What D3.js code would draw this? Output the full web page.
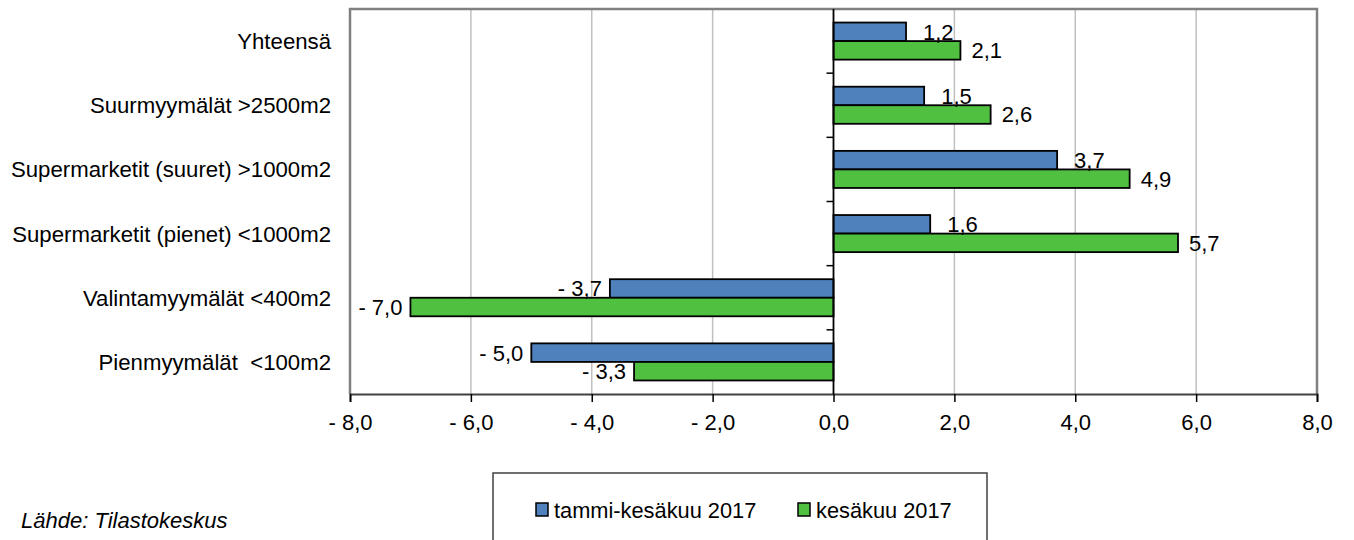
<!DOCTYPE html>
<html>
<head>
<meta charset="utf-8">
<script src="https://cdn.jsdelivr.net/npm/d3@7"></script>
<style>
  body { margin: 0; background: #fff; }
  svg { font-family: "Liberation Sans", Arial, sans-serif; }
</style>
</head>
<body>
<div id="wrapper"></div>
<script>
// data
const categories = [
    "Yhteensä",
    "Suurmyymälät >2500m2",
    "Supermarketit (suuret) >1000m2",
    "Supermarketit (pienet) <1000m2",
    "Valintamyymälät <400m2",
    "Pienmyymälät  <100m2",
]
const seriesNames = ["tammi-kesäkuu 2017", "kesäkuu 2017"]
const tammiKesa = [1.2, 1.5, 3.7, 1.6, -3.7, -5.0]
const kesa = [2.1, 2.6, 4.9, 5.7, -7.0, -3.3]
const xTicks = [-8, -6, -4, -2, 0, 2, 4, 6, 8]
const colors = ["#4f81bd", "#50c040"]

const fmt = d => (d < 0 ? "- " : "") + Math.abs(d).toFixed(1).replace(".", ",")

const rows = categories.map((c, i) => ({
    category: c,
    values: [
        {series: seriesNames[0], value: tammiKesa[i]},
        {series: seriesNames[1], value: kesa[i]},
    ],
}))

let dimensions = {
    width: 1354,
    height: 540,
    margin: {top: 9, right: 37, bottom: 146, left: 350},
}
dimensions.boundedWidth = dimensions.width - dimensions.margin.left - dimensions.margin.right
dimensions.boundedHeight = dimensions.height - dimensions.margin.top - dimensions.margin.bottom

const wrapper = d3.select("#wrapper").append("svg")
    .attr("width", dimensions.width)
    .attr("height", dimensions.height)
const bounds = wrapper.append("g")
    .attr("transform", `translate(${dimensions.margin.left},${dimensions.margin.top})`)

const xScaler = d3.scaleLinear().domain([-8, 8]).range([0, dimensions.boundedWidth])
const yScaler = d3.scaleBand().domain(categories).range([0, dimensions.boundedHeight])
const ySub = d3.scaleBand().domain(seriesNames).range([0, yScaler.bandwidth()])
    .paddingInner(0).paddingOuter(0.73)

// grid lines
bounds.append("g").selectAll("line")
    .data(xTicks.filter(d => d !== 0 && Math.abs(d) !== 8))
    .join("line")
    .attr("x1", d => xScaler(d)).attr("x2", d => xScaler(d))
    .attr("y1", 0).attr("y2", dimensions.boundedHeight)
    .attr("stroke", "#c0c0c0").attr("stroke-width", 1.5)

// plot border (left, top, right)
bounds.append("path")
    .attr("d", `M0,${dimensions.boundedHeight}V0H${dimensions.boundedWidth}V${dimensions.boundedHeight}`)
    .attr("fill", "none").attr("stroke", "#808080").attr("stroke-width", 2.5)

// x axis
const xAxisGen = d3.axisBottom(xScaler).tickValues(xTicks).tickFormat(fmt).tickSize(8).tickPadding(12)
const xAxis = bounds.append("g")
    .attr("transform", `translate(0,${dimensions.boundedHeight})`)
    .call(xAxisGen)
xAxis.select(".domain").attr("stroke", "#404040").attr("stroke-width", 2)
xAxis.selectAll(".tick line").attr("stroke", "#000").attr("stroke-width", 1.5)
xAxis.selectAll("text").attr("font-size", 22).attr("fill", "#000")
    .attr("font-family", "'Liberation Sans', Arial, sans-serif")

// bars
const groups = bounds.append("g").selectAll("g").data(rows).join("g")
    .attr("transform", d => `translate(0,${yScaler(d.category)})`)
groups.selectAll("rect").data(d => d.values).join("rect")
    .attr("x", d => xScaler(Math.min(0, d.value)))
    .attr("y", d => ySub(d.series))
    .attr("width", d => Math.abs(xScaler(d.value) - xScaler(0)))
    .attr("height", ySub.bandwidth())
    .attr("fill", (d, i) => colors[i])
    .attr("stroke", "#000").attr("stroke-width", 1.8)

// value labels
groups.selectAll("text").data(d => d.values).join("text")
    .attr("x", (d, i) => xScaler(d.value) + (d.value < 0 ? -8 : (i === 0 ? 17 : 11)))
    .attr("y", d => ySub(d.series) + ySub.bandwidth() / 2)
    .attr("dy", "0.36em")
    .attr("text-anchor", d => d.value < 0 ? "end" : "start")
    .attr("font-size", 22)
    .text(d => fmt(d.value))

// vertical axis at zero with ticks at band edges
const zeroAxis = bounds.append("g").attr("transform", `translate(${xScaler(0)},0)`)
zeroAxis.append("line")
    .attr("y1", 0).attr("y2", dimensions.boundedHeight)
    .attr("stroke", "#000").attr("stroke-width", 1.8)
zeroAxis.selectAll(".edge").data(categories.slice(1)).join("line")
    .attr("class", "edge")
    .attr("x1", -7).attr("x2", 0)
    .attr("y1", d => yScaler(d)).attr("y2", d => yScaler(d))
    .attr("stroke", "#000").attr("stroke-width", 1.5)

// category labels
bounds.append("g").selectAll("text").data(categories).join("text")
    .attr("x", -19)
    .attr("y", d => yScaler(d) + yScaler.bandwidth() / 2)
    .attr("dy", "0.36em")
    .attr("text-anchor", "end")
    .attr("font-size", 22.2)
    .style("white-space", "pre")
    .text(d => d)

// legend
const legend = wrapper.append("g")
legend.append("rect")
    .attr("x", 493).attr("y", 473).attr("width", 494).attr("height", 70)
    .attr("fill", "#fff").attr("stroke", "#404040").attr("stroke-width", 1.5)
const legendX = [536, 798]
seriesNames.forEach((name, i) => {
    legend.append("rect")
        .attr("x", legendX[i]).attr("y", 503).attr("width", 12).attr("height", 13)
        .attr("fill", colors[i]).attr("stroke", "#000").attr("stroke-width", 1.5)
    legend.append("text")
        .attr("x", legendX[i] + 18).attr("y", 518)
        .attr("font-size", 21.8)
        .text(name)
})

// source
wrapper.append("text")
    .attr("x", 21).attr("y", 528)
    .attr("font-size", 22)
    .attr("font-style", "italic")
    .text("Lähde: Tilastokeskus")
</script>
</body>
</html>
